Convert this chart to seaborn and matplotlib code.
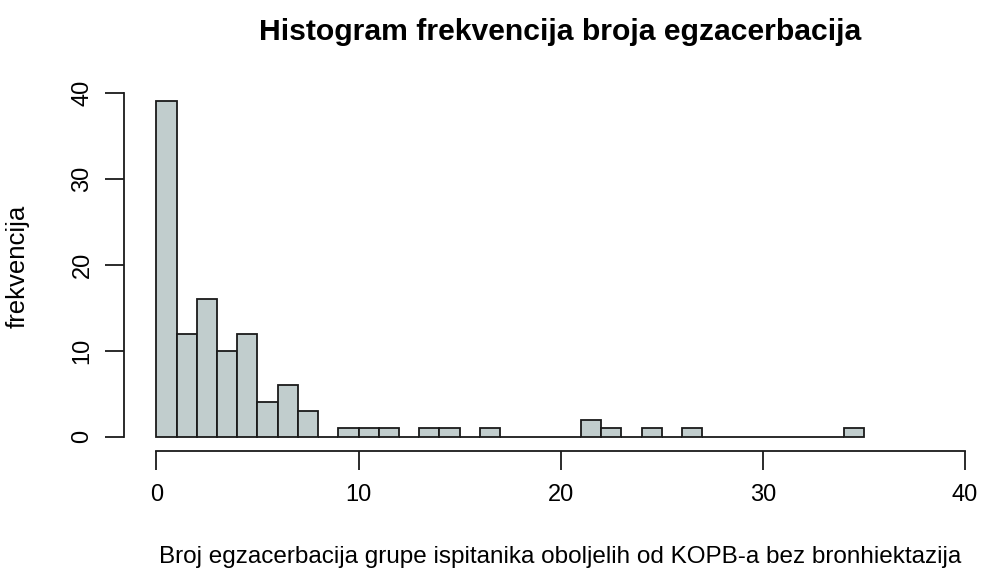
"""R-style histogram of exacerbation counts, redrawn with seaborn."""
import matplotlib
matplotlib.use("Agg")

import matplotlib.pyplot as plt
import numpy as np
import pandas as pd
import seaborn as sns

# bin edges 0..35, one count per unit-wide bin
bin_edges = list(range(0, 36))
bin_counts = [39, 12, 16, 10, 12, 4, 6, 3, 0, 1,
              1, 1, 0, 1, 1, 0, 1, 0, 0, 0,
              0, 2, 1, 0, 1, 0, 1, 0, 0, 0,
              0, 0, 0, 0, 1]
x_ticks = [0, 10, 20, 30, 40]
y_ticks = [0, 10, 20, 30, 40]

TITLE = "Histogram frekvencija broja egzacerbacija"
XLABEL = "Broj egzacerbacija grupe ispitanika oboljelih od KOPB-a bez bronhiektazija"
YLABEL = "frekvencija"

sns.set_style("white")
plt.rcParams["font.family"] = ["Liberation Sans", "DejaVu Sans"]
plt.rcParams["text.color"] = "black"
plt.rcParams["xtick.color"] = "black"
plt.rcParams["ytick.color"] = "black"

fig = plt.figure(figsize=(9.84, 5.72), dpi=100)
# plot region runs past the right edge, like the cropped R device
ax = fig.add_axes([0.126, 0.2124, 0.8876, 0.6495])

df = pd.DataFrame({"value": np.array(bin_edges[:-1]) + 0.5, "count": bin_counts})
sns.histplot(
    data=df, x="value", weights="count", bins=bin_edges, ax=ax,
    color="#C1CDCD", edgecolor="#1a1a1a", linewidth=1.3, alpha=1,
)

ax.set_xlim(-1.6, 41.6)
ax.set_ylim(-1.6, 41.6)
ax.set_xticks(x_ticks)
ax.set_yticks(y_ticks)
ax.set_yticklabels([str(v) for v in y_ticks], rotation=90, va="center")
ax.tick_params(axis="both", length=14, width=1.3, color="#1a1a1a",
               labelsize=17, labelcolor="black", pad=8, direction="out",
               bottom=True, left=True)
ax.tick_params(axis="x", pad=10)

for side in ("top", "right"):
    ax.spines[side].set_visible(False)
for side in ("left", "bottom"):
    ax.spines[side].set_linewidth(1.3)
    ax.spines[side].set_color("#1a1a1a")
ax.spines["left"].set_bounds(0, 40)
ax.spines["bottom"].set_bounds(0, 40)

ax.set_xlabel("")
ax.set_ylabel("")
fig.text(560 / 984, 1 - 32 / 572, TITLE, ha="center", va="center",
         fontsize=21.7, fontweight="bold")
fig.text(560 / 984, 1 - 557 / 572, XLABEL, ha="center", va="center", fontsize=17.5)
fig.text(18 / 984, 1 - 266 / 572, YLABEL, ha="center", va="center",
         fontsize=18.5, rotation=90)

fig.savefig("out.png", dpi=100)
